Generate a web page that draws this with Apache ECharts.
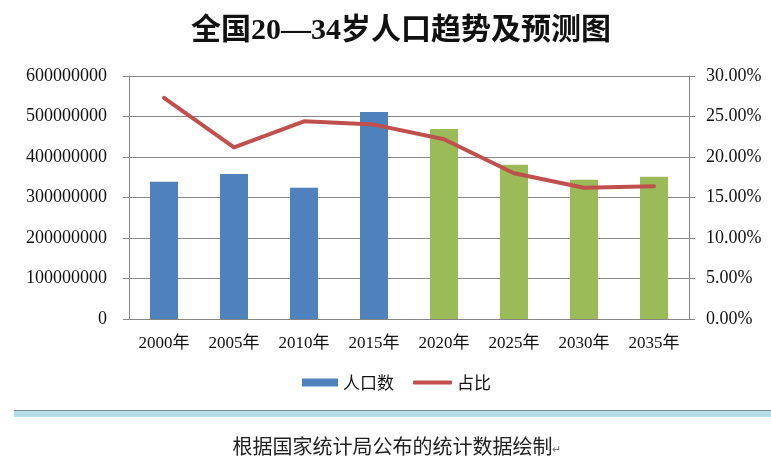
<!DOCTYPE html>
<html>
<head>
<meta charset="utf-8">
<script src="https://cdn.jsdelivr.net/npm/echarts@6/dist/echarts.min.js"></script>
<style>
html,body{margin:0;padding:0;background:#fff;}
#main{width:771px;height:459px;}
</style>
</head>
<body>
<div id="main"></div>
<script>
// ---- data ----
var titleText = '全国20—34岁人口趋势及预测图';
var footerText = '根据国家统计局公布的统计数据绘制';
var categories = ['2000年', '2005年', '2010年', '2015年', '2020年', '2025年', '2030年', '2035年'];
var populationName = '人口数';
var shareName = '占比';
var population = [339000000, 358000000, 324000000, 511000000, 469000000, 381000000, 344000000, 351000000];
var sharePercent = [27.3, 21.2, 24.4, 24.0, 22.2, 18.0, 16.2, 16.4];
var forecastStartIndex = 4;
var leftTicks = [0, 100000000, 200000000, 300000000, 400000000, 500000000, 600000000];
var rightTicks = [0, 5, 10, 15, 20, 25, 30];

// ---- chart ----
var chart = echarts.init(document.getElementById('main'), null, {renderer: 'canvas'});
var serif = '"Liberation Serif", "Times New Roman", "Noto Sans CJK SC", serif';
var cjk = '"Noto Sans CJK SC", sans-serif';
var gridColor = '#868686';
var blue = '#4F81BD', green = '#9BBB59', red = '#C0504D';

var legendText = {fontFamily: cjk, fontSize: 17, color: '#111'};

var option = {
  backgroundColor: '#ffffff',
  animation: false,
  title: {
    text: titleText,
    left: 186,
    top: 11,
    textStyle: {fontFamily: serif, fontSize: 30, fontWeight: 'bold', color: '#111'}
  },
  legend: [
    {
      data: [{name: populationName, icon: 'rect', itemStyle: {color: blue}}],
      left: 302,
      top: 374,
      padding: 0,
      itemWidth: 36,
      itemHeight: 8,
      textStyle: legendText
    },
    {
      data: [{name: shareName, icon: 'roundRect', itemStyle: {color: red}}],
      left: 413,
      top: 374,
      padding: 0,
      itemWidth: 39,
      itemHeight: 4,
      textStyle: legendText
    }
  ],
  grid: {left: 129, right: 82, top: 76, bottom: 140},
  xAxis: {
    type: 'category',
    data: categories,
    axisLine: {lineStyle: {color: gridColor, width: 1}},
    axisTick: {show: false},
    axisLabel: {fontFamily: serif, fontSize: 17, color: '#111', margin: 16, interval: 0}
  },
  yAxis: [
    {
      type: 'value',
      min: leftTicks[0],
      max: leftTicks[leftTicks.length - 1],
      interval: leftTicks[1] - leftTicks[0],
      axisLine: {show: true, lineStyle: {color: gridColor, width: 1}},
      axisTick: {show: true, length: 6, lineStyle: {color: gridColor}},
      splitLine: {show: true, lineStyle: {color: gridColor, width: 1}},
      axisLabel: {fontFamily: serif, fontSize: 18, color: '#111', margin: 22,
        formatter: function (v) { return String(v); }}
    },
    {
      type: 'value',
      min: rightTicks[0],
      max: rightTicks[rightTicks.length - 1],
      interval: rightTicks[1] - rightTicks[0],
      axisLine: {show: true, lineStyle: {color: gridColor, width: 1}},
      axisTick: {show: true, length: 6, lineStyle: {color: gridColor}},
      splitLine: {show: false},
      axisLabel: {fontFamily: serif, fontSize: 18, color: '#111', margin: 17,
        formatter: function (v) { return v.toFixed(2) + '%'; }}
    }
  ],
  series: [
    {
      name: populationName,
      type: 'bar',
      yAxisIndex: 0,
      data: population,
      barWidth: '40%',
      itemStyle: {
        color: function (p) { return p.dataIndex < forecastStartIndex ? blue : green; }
      }
    },
    {
      name: shareName,
      type: 'line',
      yAxisIndex: 1,
      data: sharePercent,
      symbol: 'none',
      smooth: false,
      lineStyle: {color: red, width: 4, cap: 'round', join: 'round'},
      itemStyle: {color: red}
    }
  ],
  graphic: [
    {type: 'rect', shape: {x: 14, y: 410, width: 757, height: 1}, style: {fill: '#7F8A8F'}, silent: true},
    {type: 'rect', shape: {x: 14, y: 411, width: 757, height: 6}, style: {fill: '#B7DDE8'}, silent: true},
    {type: 'text', x: 397, y: 446, style: {
      text: '{a|' + footerText + '}{b|↵}',
      rich: {
        a: {fontFamily: cjk, fontSize: 20, fill: '#222', color: '#222'},
        b: {fontFamily: cjk, fontSize: 11, fill: '#777', color: '#777', padding: [6, 0, 0, 0]}
      },
      align: 'center', verticalAlign: 'middle'
    }}
  ]
};
chart.setOption(option);
</script>
</body>
</html>
